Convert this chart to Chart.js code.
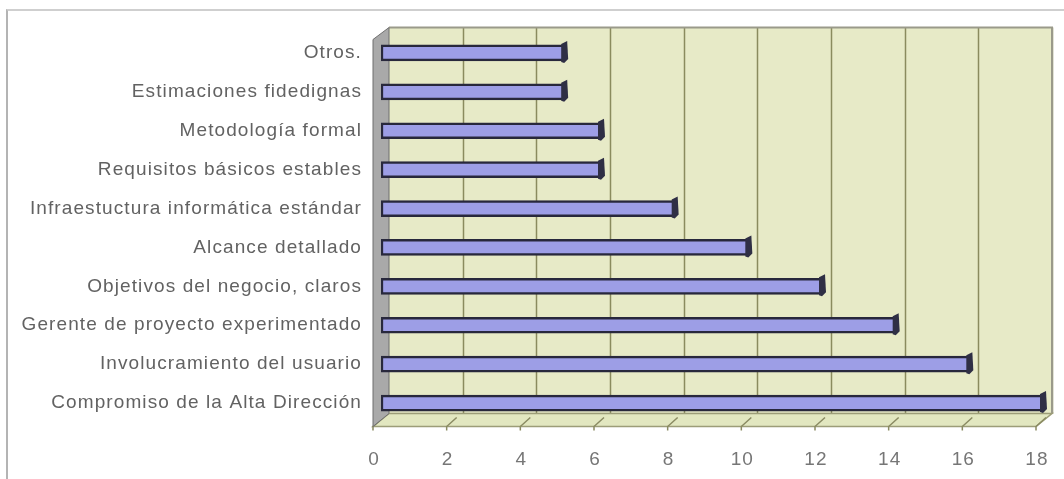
<!DOCTYPE html>
<html>
<head>
<meta charset="utf-8">
<script src="https://cdn.jsdelivr.net/npm/chart.js@4/dist/chart.umd.min.js"></script>
<style>
  html, body { margin: 0; padding: 0; background: #ffffff; }
  #frame { position: absolute; left: 6px; top: 9px; width: 1070px; height: 480px;
           border-left: 2px solid #b4b4b4; border-top: 2px solid #cfcfcf; box-sizing: border-box; }
  #wrap { position: absolute; left: 0; top: 0; width: 1064px; height: 479px; }
</style>
</head>
<body>
<div id="frame"></div>
<div id="wrap"><canvas id="chart" width="1064" height="479"></canvas></div>
<script>
// Factores de éxito de un proyecto (cantidad de menciones)
const categories = [
  'Otros.',
  'Estimaciones fidedignas',
  'Metodología formal',
  'Requisitos básicos estables',
  'Infraestuctura informática estándar',
  'Alcance detallado',
  'Objetivos del negocio, claros',
  'Gerente de proyecto experimentado',
  'Involucramiento del usuario',
  'Compromiso de la Alta Dirección'
];
const menciones = [5, 5, 6, 6, 8, 10, 12, 14, 16, 18];
const xTicks = [0, 2, 4, 6, 8, 10, 12, 14, 16, 18];

// Half depth of the 3D box, in pixels
const DX = 8;

// Walls, floor and back gridlines of the 3D plot box
const box3d = {
  id: 'box3d',
  beforeDraw(chart) {
    chart.ctx.letterSpacing = '1.1px';
  },
  beforeDatasetsDraw(chart) {
    const { ctx, chartArea, scales } = chart;
    const xs = scales.x;
    const x0 = xs.getPixelForValue(xTicks[0]);
    const x1 = xs.getPixelForValue(xTicks[xTicks.length - 1]);
    const topBack = chartArea.top - 6;
    const floorBack = chartArea.bottom - 9;
    const floorFront = chartArea.bottom + 4;
    const lf = x0 - DX, lb = x0 + DX, rf = x1 - DX, rb = x1 + DX;
    ctx.save();
    // back wall
    ctx.fillStyle = '#e7eac7';
    ctx.fillRect(lb, topBack, rb - lb, floorBack - topBack);
    // back gridlines
    ctx.strokeStyle = '#8a8b5e';
    ctx.lineWidth = 1.5;
    xTicks.forEach(v => {
      if (v === xTicks[0]) return;
      const gx = Math.round(xs.getPixelForValue(v) + DX) + 0.5;
      ctx.beginPath();
      ctx.moveTo(gx, topBack);
      ctx.lineTo(gx, floorBack);
      ctx.stroke();
    });
    // top and right edges of the wall
    ctx.strokeStyle = '#9a9a8a';
    ctx.lineWidth = 2;
    ctx.beginPath();
    ctx.moveTo(lb, topBack);
    ctx.lineTo(rb, topBack);
    ctx.lineTo(rb, floorBack);
    ctx.stroke();
    // floor
    ctx.fillStyle = '#e2e7c0';
    ctx.beginPath();
    ctx.moveTo(lf, floorFront);
    ctx.lineTo(rf, floorFront);
    ctx.lineTo(rb, floorBack);
    ctx.lineTo(lb, floorBack);
    ctx.closePath();
    ctx.fill();
    ctx.strokeStyle = '#9c9d78';
    ctx.lineWidth = 1.5;
    ctx.stroke();
    // floor tick marks
    ctx.strokeStyle = '#8a8b62';
    ctx.lineWidth = 1.5;
    xTicks.forEach(v => {
      const fx = xs.getPixelForValue(v) - DX;
      ctx.beginPath();
      ctx.moveTo(fx, floorFront + 4);
      ctx.lineTo(fx, floorFront);
      ctx.lineTo(fx + 10, floorBack + 4);
      ctx.stroke();
    });
    // left wall
    ctx.fillStyle = '#a9a9a9';
    ctx.beginPath();
    ctx.moveTo(lb, topBack);
    ctx.lineTo(lf, topBack + 12);
    ctx.lineTo(lf, floorFront);
    ctx.lineTo(lb, floorBack);
    ctx.closePath();
    ctx.fill();
    ctx.strokeStyle = '#6f6f6f';
    ctx.lineWidth = 1;
    ctx.stroke();
    ctx.restore();
  },
  afterDatasetsDraw(chart) {
    // dark end face of each bar
    const { ctx } = chart;
    const meta = chart.getDatasetMeta(0);
    ctx.save();
    ctx.fillStyle = '#2f2f45';
    meta.data.forEach(bar => {
      const t = bar.y - bar.height / 2;
      const b = bar.y + bar.height / 2;
      ctx.beginPath();
      ctx.moveTo(bar.x - 4, t - 1);
      ctx.lineTo(bar.x + 2, t - 4);
      ctx.lineTo(bar.x + 3, b - 2);
      ctx.lineTo(bar.x - 1, b + 2);
      ctx.lineTo(bar.x - 4, b + 1);
      ctx.closePath();
      ctx.fill();
    });
    ctx.restore();
  }
};

new Chart(document.getElementById('chart'), {
  type: 'bar',
  data: {
    labels: categories,
    datasets: [{
      data: menciones,
      backgroundColor: '#9d9ee6',
      borderColor: '#28283c',
      borderWidth: 2.5,
      borderSkipped: false,
      barThickness: 16
    }]
  },
  options: {
    indexAxis: 'y',
    responsive: false,
    animation: false,
    layout: { padding: { top: 33.5, right: 20, bottom: 10, left: 0 } },
    plugins: { legend: { display: false }, tooltip: { enabled: false } },
    scales: {
      x: {
        min: 0, max: 18,
        afterBuildTicks: s => { s.ticks = xTicks.map(v => ({ value: v })); },
        afterFit: s => { s.height = 46.5; s.paddingLeft = 0; s.paddingRight = 0; },
        grid: { display: false, drawTicks: false },
        border: { display: false },
        ticks: {
          color: '#767676',
          font: { family: 'Liberation Sans', size: 19 },
          padding: 26,
          labelOffset: -7
        }
      },
      y: {
        afterFit: s => { s.width = 381; },
        grid: { display: false, drawTicks: false },
        border: { display: false },
        ticks: {
          color: '#626262',
          font: { family: 'Liberation Sans', size: 19 },
          padding: 19
        }
      }
    }
  },
  plugins: [box3d]
});
</script>
</body>
</html>
